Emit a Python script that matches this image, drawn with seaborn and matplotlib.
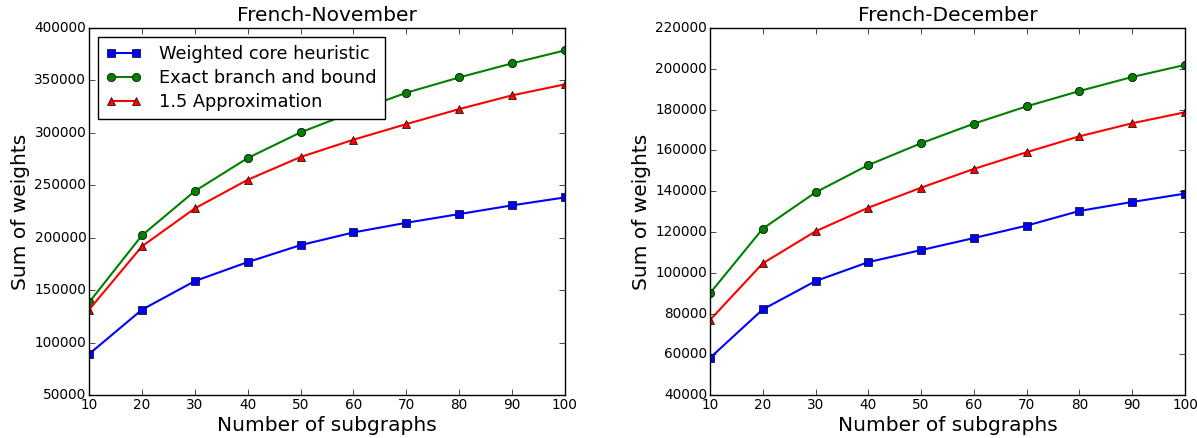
import numpy as np
import pandas as pd
import matplotlib
matplotlib.use("Agg")
import matplotlib.pyplot as plt
import seaborn as sns

subgraphs = [10, 20, 30, 40, 50, 60, 70, 80, 90, 100]
series_names = ["Weighted core heuristic", "Exact branch and bound", "1.5 Approximation"]

nov_core = [89100, 131400, 158700, 176800, 193000, 205100, 214300, 222600, 230900, 238500]
nov_exact = [138400, 202300, 244500, 276000, 300500, 320000, 338300, 352900, 366300, 378700]
nov_approx = [131400, 191800, 228000, 255300, 277000, 293500, 308400, 322700, 335800, 346300]

dec_core = [58200, 82000, 95900, 105200, 111100, 117000, 123100, 130300, 134700, 138800]
dec_exact = [89900, 121600, 139400, 152800, 163500, 173100, 181600, 189100, 196000, 201900]
dec_approx = [76800, 104600, 120300, 131900, 141700, 150900, 159100, 166900, 173300, 178700]

colors = ["#0000ff", "#008000", "#ff0000"]
markers = ["s", "o", "^"]

plt.style.use("classic")
plt.rcParams["font.family"] = ["DejaVu Sans"]


def draw_panel(ax, title, values, ylim, ystep, legend=False):
    for name, vals, c, m in zip(series_names, values, colors, markers):
        df = pd.DataFrame({"x": subgraphs, "y": vals})
        sns.lineplot(data=df, x="x", y="y", ax=ax, color=c, marker=m,
                     markersize=6, markeredgecolor="black", markeredgewidth=0.5,
                     linewidth=1.5, label=name if legend else None)
    ax.set_xlim(10, 100)
    ax.set_ylim(*ylim)
    ax.set_xticks(range(10, 101, 10))
    ax.set_yticks(np.arange(ylim[0], ylim[1] + 1, ystep))
    ax.tick_params(labelsize=9.8, pad=2)
    ax.set_title(title, fontsize=14.5)
    ax.set_xlabel("Number of subgraphs", fontsize=14.5, labelpad=3)
    ax.set_ylabel("Sum of weights", fontsize=14.5, labelpad=3)
    if legend:
        ax.legend(loc="upper left", fontsize=12.8, numpoints=2,
                  labelspacing=0.35, handletextpad=1.0, borderpad=0.45)
    elif ax.get_legend() is not None:
        ax.get_legend().remove()


fig = plt.figure(figsize=(11.97, 4.38), dpi=100, facecolor="white")
ax1 = fig.add_axes([0.0744, 0.098, 0.3976, 0.838])
ax2 = fig.add_axes([0.5931, 0.098, 0.3969, 0.838])

draw_panel(ax1, "French-November", [nov_core, nov_exact, nov_approx], (50000, 400000), 50000, legend=True)
draw_panel(ax2, "French-December", [dec_core, dec_exact, dec_approx], (40000, 220000), 20000)

fig.savefig("out.png", dpi=100, facecolor="white")
